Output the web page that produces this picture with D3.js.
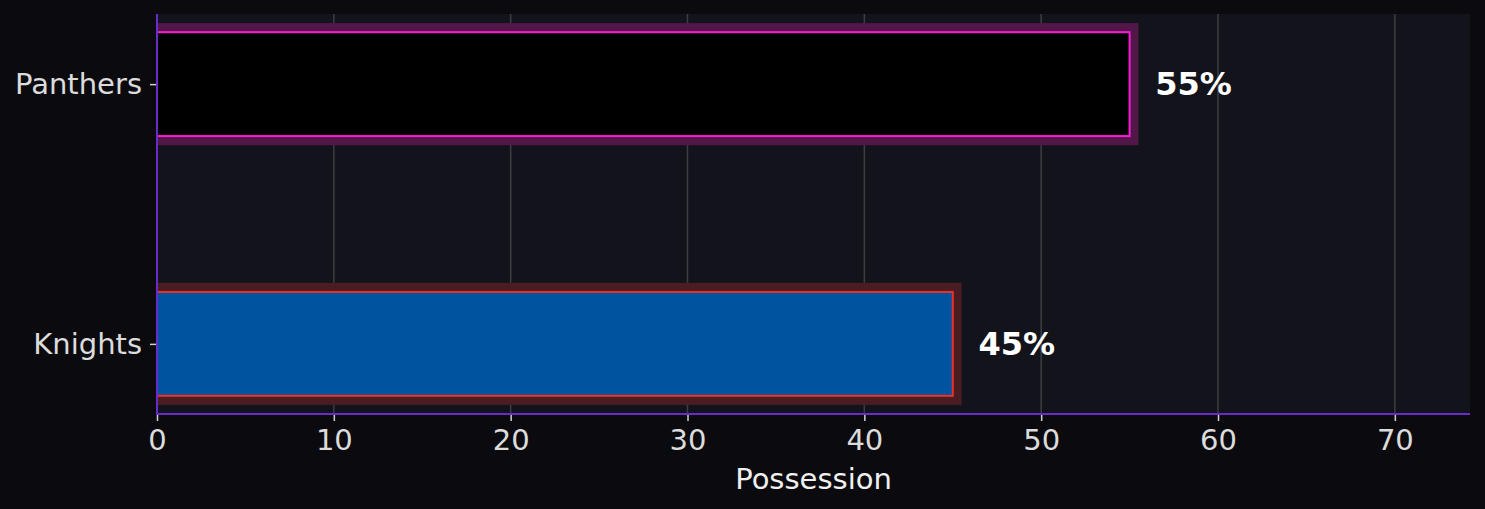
<!DOCTYPE html>
<html>
<head>
<meta charset="utf-8">
<script src="https://cdn.jsdelivr.net/npm/d3@7"></script>
<style>
  html, body { margin: 0; padding: 0; background: #0b0b0f; }
  svg { display: block; }
</style>
</head>
<body>
<svg id="chart" width="1485" height="509"></svg>
<script>
// data
const teams = ["Knights", "Panthers"]
const possession = [45, 55]
const barFills = ["#00539f", "#000000"]
const barEdges = ["#ee3127", "#ff1ad9"]
const glowFills = ["#4a1d22", "#521749"]
const xTicks = [0, 10, 20, 30, 40, 50, 60, 70]

const [width, height] = [1485, 509]
const margin = {top: 14, right: 15, bottom: 95, left: 157}
const svg = d3.select("#chart")

const x = d3.scaleLinear()
    .domain([0, d3.max(possession) * 1.35])
    .range([margin.left, width - margin.right])
const y = d3.scaleLinear()
    .domain([-0.27, 1.27])
    .range([height - margin.bottom, margin.top])

const barH = 0.4
const glowH = 0.47

// plot background
svg.append("rect")
    .attr("x", x.range()[0])
    .attr("y", margin.top)
    .attr("width", x.range()[1] - x.range()[0])
    .attr("height", height - margin.bottom - margin.top)
    .attr("fill", "#13141b")

// vertical grid
svg.append("g")
    .selectAll("line")
    .data(xTicks)
    .join("line")
        .attr("x1", d => x(d))
        .attr("x2", d => x(d))
        .attr("y1", margin.top)
        .attr("y2", height - margin.bottom)
        .attr("stroke", "#3d3e44")
        .attr("stroke-width", 1.5)

const data = teams.map((t, i) => ({team: t, value: possession[i], i}))

// glow behind bars
svg.append("g")
    .selectAll("rect")
    .data(data)
    .join("rect")
        .attr("x", x(0))
        .attr("y", d => y(d.i + glowH / 2))
        .attr("width", d => x(d.value + 0.5) - x(0))
        .attr("height", d => y(d.i - glowH / 2) - y(d.i + glowH / 2))
        .attr("fill", d => glowFills[d.i])

// bars
svg.append("g")
    .selectAll("rect")
    .data(data)
    .join("rect")
        .attr("x", x(0))
        .attr("y", d => y(d.i + barH / 2))
        .attr("width", d => x(d.value) - x(0))
        .attr("height", d => y(d.i - barH / 2) - y(d.i + barH / 2))
        .attr("fill", d => barFills[d.i])
        .attr("stroke", d => barEdges[d.i])
        .attr("stroke-width", 2)

// value labels
svg.append("g")
    .selectAll("text")
    .data(data)
    .join("text")
        .attr("x", d => x(d.value + 1.45))
        .attr("y", d => y(d.i))
        .attr("dy", "0.35em")
        .attr("fill", "#ffffff")
        .attr("font-family", "DejaVu Sans")
        .attr("font-weight", "bold")
        .attr("font-size", 32)
        .text(d => d.value + "%")

// x axis
const xAxis = svg.append("g")
    .attr("transform", `translate(0, ${height - margin.bottom})`)
    .call(d3.axisBottom(x).tickValues(xTicks).tickSize(7).tickPadding(8))
xAxis.select(".domain").remove()
xAxis.selectAll(".tick line").attr("stroke", "#d0d0d0").attr("stroke-width", 1.5)
xAxis.selectAll(".tick text")
    .attr("fill", "#dcdcdc")
    .attr("font-family", "DejaVu Sans")
    .attr("font-size", 29)

// y axis
const yAxis = svg.append("g")
    .attr("transform", `translate(${margin.left}, 0)`)
    .call(d3.axisLeft(y).tickValues([0, 1]).tickFormat(i => teams[i]).tickSize(7).tickPadding(8))
yAxis.select(".domain").remove()
yAxis.selectAll(".tick line").attr("stroke", "#d0d0d0").attr("stroke-width", 1.5)
yAxis.selectAll(".tick text")
    .attr("fill", "#dcdcdc")
    .attr("font-family", "DejaVu Sans")
    .attr("font-size", 29)

// spines
svg.append("line")
    .attr("x1", x(0)).attr("x2", x(0))
    .attr("y1", margin.top).attr("y2", height - margin.bottom)
    .attr("stroke", "#6a2bcc").attr("stroke-width", 2)
svg.append("line")
    .attr("x1", x(0) - 1).attr("x2", x.range()[1])
    .attr("y1", height - margin.bottom).attr("y2", height - margin.bottom)
    .attr("stroke", "#6a2bcc").attr("stroke-width", 2)

// x label
svg.append("text")
    .attr("x", (x.range()[0] + x.range()[1]) / 2)
    .attr("y", 489)
    .attr("text-anchor", "middle")
    .attr("fill", "#f0f0f0")
    .attr("font-family", "DejaVu Sans")
    .attr("font-size", 29)
    .text("Possession")
</script>
</body>
</html>
